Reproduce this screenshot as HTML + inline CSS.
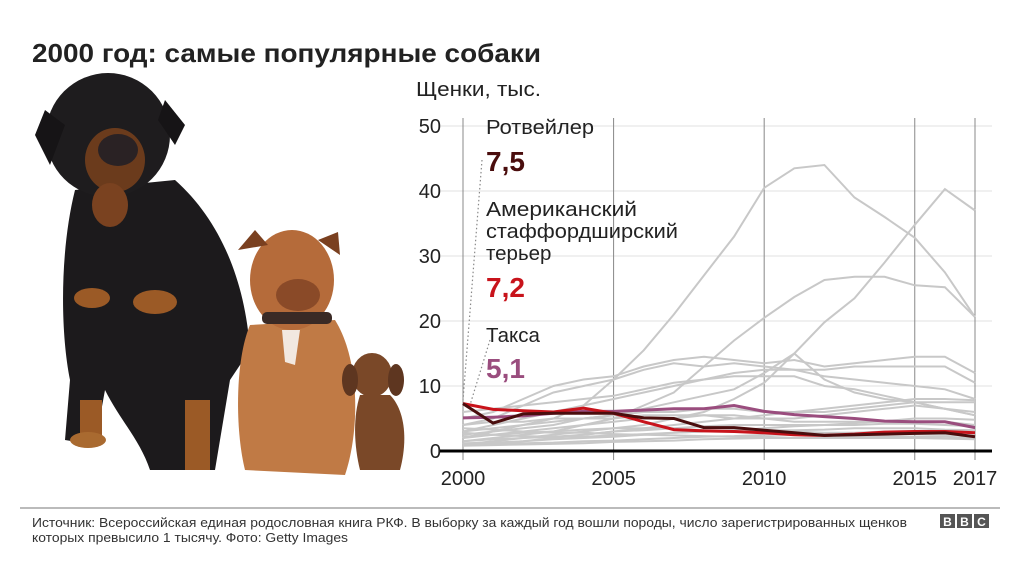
<!DOCTYPE html>
<html><head><meta charset="utf-8"><style>
body{margin:0;background:#fff;}
svg{display:block;font-family:"Liberation Sans",Arial,sans-serif;}
</style></head><body>
<svg id="chart" width="1024" height="576" viewBox="0 0 1024 576">
<rect width="1024" height="576" fill="#fff"/>
<text x="32" y="62" font-size="26" font-weight="bold" fill="#222" textLength="509" lengthAdjust="spacingAndGlyphs">2000 год: самые популярные собаки</text>
<g>
 <g>
  <path d="M75,190 C60,250 60,330 70,380 L65,440 L95,445 L105,390 C120,420 140,440 150,470 L215,470 L230,380 L250,350 C245,280 220,220 175,180 Z" fill="#1c1a1c"/>
  <ellipse cx="108" cy="135" rx="62" ry="62" fill="#1e1c1e"/>
  <path d="M45,110 L35,135 L50,165 L65,125 Z" fill="#161416"/>
  <path d="M165,100 L185,125 L175,145 L158,120 Z" fill="#161416"/>
  <ellipse cx="115" cy="160" rx="30" ry="32" fill="#6b3b1c"/>
  <ellipse cx="118" cy="150" rx="20" ry="16" fill="#2a2224"/>
  <ellipse cx="110" cy="205" rx="18" ry="22" fill="#7a4220"/>
  <ellipse cx="92" cy="298" rx="18" ry="10" fill="#9b5a26"/>
  <ellipse cx="155" cy="302" rx="22" ry="12" fill="#9b5a26"/>
  <rect x="80" y="400" width="22" height="45" fill="#9b5a26"/>
  <rect x="185" y="400" width="25" height="70" fill="#9b5a26"/>
  <ellipse cx="88" cy="440" rx="18" ry="8" fill="#a96a30"/>
 </g>
 <g>
  <path d="M250,325 C235,360 235,430 245,470 L345,475 C360,430 360,360 335,320 Z" fill="#c07a45"/>
  <ellipse cx="292" cy="280" rx="42" ry="50" fill="#b56b3a"/>
  <path d="M238,250 L255,230 L268,245 Z" fill="#7a4020"/>
  <path d="M318,240 L338,232 L340,255 Z" fill="#7a4020"/>
  <ellipse cx="298" cy="295" rx="22" ry="16" fill="#8a4a28"/>
  <rect x="262" y="312" width="70" height="12" rx="5" fill="#3a2a25"/>
  <path d="M282,330 L300,330 L295,365 L285,362 Z" fill="#f2e8e0"/>
 </g>
 <g>
  <ellipse cx="372" cy="375" rx="20" ry="22" fill="#7a4828"/>
  <ellipse cx="350" cy="380" rx="8" ry="16" fill="#5e3620"/>
  <ellipse cx="396" cy="380" rx="8" ry="16" fill="#5e3620"/>
  <path d="M360,395 C352,420 355,450 360,470 L400,470 C408,440 405,410 390,395 Z" fill="#7a4828"/>
 </g>
</g>
<text x="416" y="96" font-size="20" fill="#222" textLength="125" lengthAdjust="spacingAndGlyphs">Щенки, тыс.</text>
<g id="grid"></g>
<g id="gray"></g>
<g id="hl"></g>
<g id="labels">
 <line x1="482" y1="160" x2="463" y2="400" stroke="#888" stroke-width="1.2" stroke-dasharray="1.5,2.5"/>
 <line x1="490" y1="340" x2="470" y2="405" stroke="#888" stroke-width="1.2" stroke-dasharray="1.5,2.5"/>
 <text x="486" y="134" font-size="20.5" fill="#222" textLength="108" lengthAdjust="spacingAndGlyphs">Ротвейлер</text>
 <text x="486" y="171" font-size="28" font-weight="bold" fill="#4a0d0d">7,5</text>
 <text x="486" y="216" font-size="20.5" fill="#222" textLength="151" lengthAdjust="spacingAndGlyphs">Американский</text>
 <text x="486" y="238" font-size="20.5" fill="#222" textLength="192" lengthAdjust="spacingAndGlyphs">стаффордширский</text>
 <text x="486" y="260" font-size="20.5" fill="#222">терьер</text>
 <text x="486" y="297" font-size="28" font-weight="bold" fill="#c8131b">7,2</text>
 <text x="486" y="342" font-size="20.5" fill="#222">Такса</text>
 <text x="486" y="378" font-size="28" font-weight="bold" fill="#9a4d7e">5,1</text>
</g>
<line x1="20" y1="508" x2="1000" y2="508" stroke="#777" stroke-width="1"/>
<text x="32" y="527" font-size="12.5" fill="#333" textLength="875" lengthAdjust="spacingAndGlyphs">Источник: Всероссийская единая родословная книга РКФ. В выборку за каждый год вошли породы, число зарегистрированных щенков</text>
<text x="32" y="542" font-size="12.5" fill="#333" textLength="316" lengthAdjust="spacingAndGlyphs">которых превысило 1 тысячу. Фото: Getty Images</text>
<g>
 <rect x="940" y="514" width="15" height="14" fill="#555"/><rect x="957" y="514" width="15" height="14" fill="#555"/><rect x="974" y="514" width="15" height="14" fill="#555"/>
 <text x="947.5" y="526" font-size="12" font-weight="bold" fill="#fff" text-anchor="middle">B</text>
 <text x="964.5" y="526" font-size="12" font-weight="bold" fill="#fff" text-anchor="middle">B</text>
 <text x="981.5" y="526" font-size="12" font-weight="bold" fill="#fff" text-anchor="middle">C</text>
</g>
</svg>
<script>
const years=[2000,2001,2002,2003,2004,2005,2006,2007,2008,2009,2010,2011,2012,2013,2014,2015,2016,2017];
const yTicks=[0,10,20,30,40,50];
const xTicks=[2000,2005,2010,2015,2017];
const rottweiler=[7.3,4.3,5.7,5.8,5.8,5.8,5.1,5.0,3.6,3.6,3.2,2.8,2.4,2.5,2.6,2.7,2.8,2.2];
const staffTerrier=[7.3,6.4,6.2,6.0,6.6,5.8,4.5,3.3,3.1,3.0,2.8,2.5,2.4,2.6,2.9,3.0,3.0,2.8];
const dachshund=[5.1,5.2,5.4,5.8,6.1,6.1,6.3,6.5,6.5,7.0,6.1,5.6,5.3,5.0,4.6,4.5,4.5,3.6];
const gray1=[2,3,4,5,7,11,15.5,21,27,33,40.5,43.5,44,39,36,32.8,27.5,20.6];
const gray2=[1.5,2,2.5,3,4,5,7,9,13,17,20.5,23.7,26.3,26.8,26.8,25.5,25.2,20.6];
const gray3=[1,1.5,2,2.5,3,3.5,4,5,6,8,10.5,15,19.8,23.5,29,34.8,40.3,37];
const gray4=[5,6,8,10,11,11.5,13,14,14.5,14,13.5,14,13,13.5,14,14.5,14.5,12];
const gray5=[4,5,7,9,10,11,12.5,13.5,13,13.5,13,12.5,12.5,13,13,13,13,10.5];
const gray6=[3,4,5,6,7,8,9,10,11,12,12.5,12.5,11.5,11,10.5,10,9.5,8];
const gray7=[6,6.5,7,7.5,8,8.5,9.5,10.5,11,11.5,11.5,11.5,10,9.5,8.5,7.5,6.5,5.5];
const gray8=[2.5,3,3.5,4,5,5.5,6.5,7.5,8.5,9.5,12,15,11,9,8,7.5,6.5,6];
const gray9=[3,3.5,4,4.5,5,5.5,6,6,6.5,6.5,6,6,6,6.5,7,7.5,7.5,7.5];
const gray10=[2,2.5,3,3.5,4,4.5,5,5,5.5,5.5,5,5,5.5,6,6.5,7,6.5,5.5];
const gray11=[4,4.5,4.5,5,5,5,5.5,5.5,5.5,5,5,4.5,4.5,4.5,4.5,4.5,4.5,4];
const gray12=[1.5,1.8,2,2.2,2.5,3,3.2,3.5,3.8,4,4,4,4,4,4.2,4.2,4,3.8];
const gray13=[1.2,1.3,1.5,1.8,2,2.2,2.5,2.8,3,3,3.2,3.2,3.3,3.5,3.5,3.5,3.3,3.2];
const gray14=[2.2,2.5,2.8,3,3.3,3.5,3.5,3.5,3.2,3,3,3,2.8,2.8,3,3,3,2.8];
const gray15=[1,1.1,1.2,1.3,1.5,1.6,1.8,2,2.2,2.3,2.5,2.5,2.5,2.6,2.6,2.6,2.5,2.4];
const gray16=[3.5,3.3,3,2.8,2.8,2.6,2.5,2.4,2.3,2.2,2.2,2,2,2,2,2,1.9,1.8];
const gray17=[0.8,0.9,1,1.1,1.2,1.4,1.5,1.6,1.8,1.9,2,2,2.1,2.2,2.2,2.2,2.2,2];
const gray18=[2.8,2.5,2.3,2.2,2.2,2.4,2.6,2.8,3,3.2,3.5,3.8,4,4.3,4.6,5,5,4.8];
const gray19=[1,1.2,1.5,2,2.5,3,3.5,4,4.5,5,5.5,6,6.5,7,7.5,8,8,7.8];
const grays=[gray1,gray2,gray3,gray4,gray5,gray6,gray7,gray8,gray9,gray10,gray11,gray12,gray13,gray14,gray15,gray16,gray17,gray18,gray19];
const NS='http://www.w3.org/2000/svg';
const X0=463,X1=975,Y0=451,Y1=126;
function xs(y){return X0+(y-2000)/(2017-2000)*(X1-X0);}
function ys(v){return Y0-(v/50)*(Y0-Y1);}
function mk(tag,attrs,parent){const e=document.createElementNS(NS,tag);for(const k in attrs)e.setAttribute(k,attrs[k]);parent.appendChild(e);return e;}
const grid=document.getElementById('grid');
yTicks.forEach(t=>{
 if(t>0){const l=mk('line',{x1:440,x2:992,y1:ys(t),y2:ys(t),stroke:'#e2e2e2','stroke-width':1},grid);
 
 }
 const tx=mk('text',{x:441,y:ys(t)+7,'font-size':20,fill:'#222','text-anchor':'end'},grid);tx.textContent=t;
 
 
});
xTicks.forEach(t=>{
 const l=mk('line',{x1:xs(t),x2:xs(t),y1:118,y2:460,stroke:'#888','stroke-width':1},grid);
 
 
 const tx=mk('text',{x:xs(t),y:485,'font-size':20,fill:'#222','text-anchor':'middle'},grid);tx.textContent=t;
 
 
});
const base=mk('line',{x1:440,x2:992,y1:Y0,y2:Y0,stroke:'#000','stroke-width':3},grid);


function pts(arr){return arr.map((v,i)=>xs(years[i]).toFixed(1)+','+ys(v).toFixed(1)).join(' ');}
const g=document.getElementById('gray');
grays.forEach(s=>{
 const p=mk('polyline',{points:pts(s),fill:'none',stroke:'#c8c8c8','stroke-width':2},g);
 
 
});
const hl=document.getElementById('hl');
const d=mk('polyline',{points:pts(dachshund),fill:'none',stroke:'#9a4d7e','stroke-width':3},hl);


const s=mk('polyline',{points:pts(staffTerrier),fill:'none',stroke:'#c8131b','stroke-width':3},hl);


const r=mk('polyline',{points:pts(rottweiler),fill:'none',stroke:'#4a0d0d','stroke-width':3},hl);


</script>
</body></html>
